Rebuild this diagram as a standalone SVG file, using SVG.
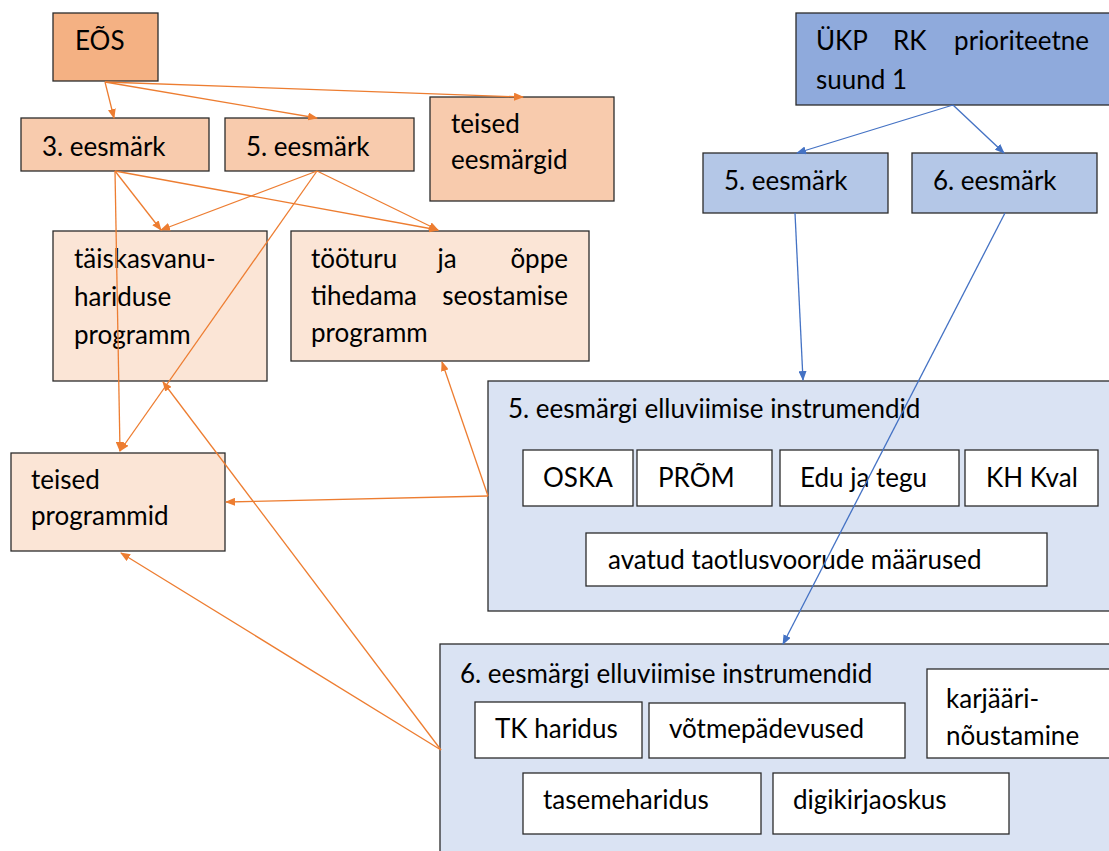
<svg xmlns="http://www.w3.org/2000/svg" width="1109" height="851" viewBox="0 0 1109 851">
<defs>
<style>
text{font-family:Lato,"Open Sans",sans-serif;font-size:26px;fill:#000}
.b{stroke:#2b2b2b;stroke-width:1.3}
.o1{fill:#f4b183}.o2{fill:#f8cbad}.o3{fill:#fbe5d6}
.bl1{fill:#8faadc}.bl2{fill:#b4c7e7}.bl3{fill:#dae3f3}.w{fill:#fff}
.co{stroke:#ed7d31;stroke-width:1.3;fill:none;marker-end:url(#ao)}
.cb{stroke:#4472c4;stroke-width:1.3;fill:none;marker-end:url(#ab)}
</style>
<marker id="ao" markerWidth="10" markerHeight="8" refX="9" refY="4" orient="auto" markerUnits="userSpaceOnUse"><path d="M0,0 L10,4 L0,8 Z" fill="#ed7d31"/></marker>
<marker id="ab" markerWidth="10" markerHeight="8" refX="9" refY="4" orient="auto" markerUnits="userSpaceOnUse"><path d="M0,0 L10,4 L0,8 Z" fill="#4472c4"/></marker>
</defs>
<rect width="1109" height="851" fill="#fff"/>
<g id="eos"><rect class="b o1" x="53" y="13" width="105" height="68"/><text x="75" y="50">EÕS</text></g>
<g id="e3"><rect class="b o2" x="21" y="118" width="188" height="53"/><text x="42" y="156">3. eesmärk</text></g>
<g id="e5"><rect class="b o2" x="225" y="118" width="189" height="53"/><text x="246" y="156">5. eesmärk</text></g>
<g id="teised-eesm"><rect class="b o2" x="430" y="97" width="184" height="104"/><text x="451" y="133">teised</text><text x="451" y="169">eesmärgid</text></g>
<g id="taisk"><rect class="b o3" x="53" y="231" width="214" height="150"/><text x="74" y="268">täiskasvanu-</text><text x="74" y="306">hariduse</text><text x="74" y="344">programm</text></g>
<g id="tooturu"><rect class="b o3" x="291" y="231" width="298" height="130"/><text x="311" y="268">tööturu</text><text x="447" y="268" text-anchor="middle">ja</text><text x="568" y="268" text-anchor="end">õppe</text><text x="311" y="305">tihedama</text><text x="568" y="305" text-anchor="end">seostamise</text><text x="311" y="342">programm</text></g>
<g id="teised-prog"><rect class="b o3" x="11" y="453" width="214" height="98"/><text x="31" y="489">teised</text><text x="31" y="525">programmid</text></g>
<g id="ukp"><rect class="b bl1" x="796" y="13" width="330" height="92"/><text x="816" y="50">ÜKP</text><text x="893" y="50">RK</text><text x="1089" y="50" text-anchor="end">prioriteetne</text><text x="816" y="89">suund 1</text></g>
<g id="b5"><rect class="b bl2" x="703" y="153" width="185" height="60"/><text x="724" y="190">5. eesmärk</text></g>
<g id="b6"><rect class="b bl2" x="912" y="153" width="185" height="60"/><text x="933" y="190">6. eesmärk</text></g>
<g id="instr5"><rect class="b bl3" x="488" y="381" width="640" height="230"/><text x="508" y="418">5. eesmärgi elluviimise instrumendid</text>
<g id="oska"><rect class="b w" x="523" y="450" width="110" height="56"/><text x="543" y="487">OSKA</text></g>
<g id="prom"><rect class="b w" x="637" y="450" width="135" height="56"/><text x="658" y="487">PRÕM</text></g>
<g id="edu"><rect class="b w" x="780" y="450" width="179" height="56"/><text x="800" y="487">Edu ja tegu</text></g>
<g id="khkval"><rect class="b w" x="965" y="450" width="133" height="56"/><text x="986" y="487">KH Kval</text></g>
<g id="avatud"><rect class="b w" x="586" y="533" width="461" height="53"/><text x="608" y="569">avatud taotlusvoorude määrused</text></g>
</g>
<g id="instr6"><rect class="b bl3" x="440" y="644" width="690" height="230"/><text x="460" y="683">6. eesmärgi elluviimise instrumendid</text>
<g id="tk"><rect class="b w" x="475" y="702" width="167" height="56"/><text x="495" y="738">TK haridus</text></g>
<g id="votme"><rect class="b w" x="649" y="703" width="256" height="55"/><text x="669" y="738">võtmepädevused</text></g>
<g id="karjaari"><rect class="b w" x="927" y="669" width="200" height="89"/><text x="946" y="708">karjääri-</text><text x="946" y="745">nõustamine</text></g>
<g id="taseme"><rect class="b w" x="523" y="773" width="238" height="61"/><text x="543" y="809">tasemeharidus</text></g>
<g id="digi"><rect class="b w" x="773" y="773" width="236" height="61"/><text x="793" y="809">digikirjaoskus</text></g>
</g>
<g id="connectors">
<line class="co" x1="105" y1="82" x2="114" y2="118"/>
<line class="co" x1="105" y1="82" x2="317" y2="118"/>
<line class="co" x1="105" y1="82" x2="523" y2="97"/>
<line class="co" x1="115" y1="171" x2="161" y2="230"/>
<line class="co" x1="115" y1="171" x2="438" y2="230"/>
<line class="co" x1="115" y1="171" x2="120" y2="451"/>
<line class="co" x1="317" y1="171" x2="161" y2="230"/>
<line class="co" x1="317" y1="171" x2="438" y2="230"/>
<line class="co" x1="317" y1="171" x2="120" y2="451"/>
<line class="co" x1="488" y1="496" x2="442" y2="362"/>
<line class="co" x1="488" y1="496" x2="226" y2="502"/>
<line class="co" x1="441" y1="750" x2="163" y2="382"/>
<line class="co" x1="441" y1="750" x2="121" y2="553"/>
<line class="cb" x1="953" y1="105" x2="797" y2="153"/>
<line class="cb" x1="953" y1="105" x2="1004" y2="153"/>
<line class="cb" x1="795" y1="213" x2="803" y2="380"/>
<line class="cb" x1="1005" y1="213" x2="783" y2="644"/>
</g>
</svg>
